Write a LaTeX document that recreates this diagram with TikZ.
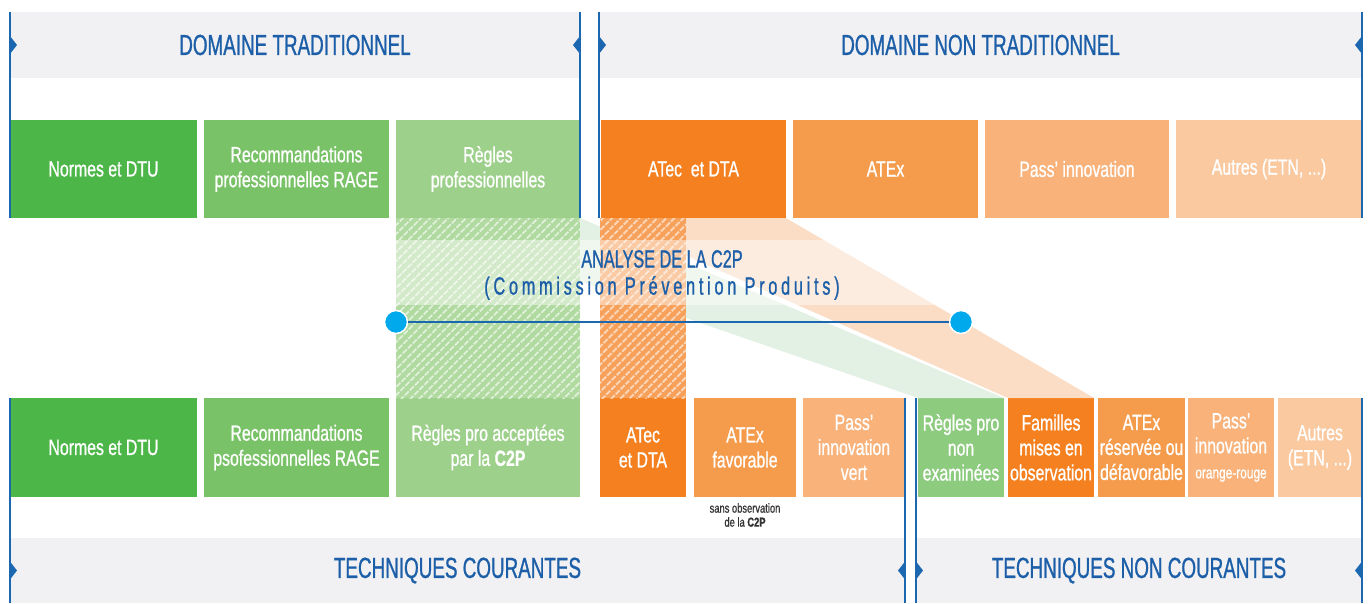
\documentclass[tikz,border=0pt]{standalone}
\usepackage{fontspec}
\setmainfont{Liberation Sans}[FakeStretch=0.72,FakeBold=0.8]
\newfontfamily\hdrfont{Liberation Sans}[FakeStretch=0.65,FakeBold=0.9]
\newfontfamily\cpfont{Liberation Sans}[FakeStretch=0.65,FakeBold=0.9,LetterSpace=15]
\usetikzlibrary{patterns.meta}
\definecolor{hgray}{HTML}{F1F1F3}
\definecolor{tblue}{HTML}{1C5FA8}
\definecolor{lblue}{HTML}{1B67B0}
\definecolor{dcyan}{HTML}{00A9EC}
\definecolor{ga}{HTML}{4CB748}
\definecolor{gb}{HTML}{79C267}
\definecolor{gc}{HTML}{9DD08B}
\definecolor{gd}{HTML}{8DCB7F}
\definecolor{oa}{HTML}{F48020}
\definecolor{ob}{HTML}{F59B4C}
\definecolor{oc}{HTML}{F8B27A}
\definecolor{od}{HTML}{FAC9A0}
\definecolor{gband}{HTML}{E2F1E3}
\definecolor{oband}{HTML}{FBD8BC}
\definecolor{ghatch}{HTML}{B0DA9F}
\definecolor{ohatch}{HTML}{F7A05A}
\newcommand\boxfnt{\fontsize{22}{25}\selectfont}
\newcommand\hdrfnt{\hdrfont\fontsize{29}{32}\selectfont}
\begin{document}
\begin{tikzpicture}[x=1pt,y=-1pt,
  box/.style={anchor=north west,inner sep=0pt,outer sep=0pt,text=white,align=center,font=\boxfnt},
  hdr/.style={anchor=north west,inner sep=0pt,outer sep=0pt,fill=hgray,text=tblue,font=\hdrfnt},
  vline/.style={draw=lblue,line width=2.4pt},
  tri/.style={fill=lblue},
  dot/.style={circle,fill=dcyan,draw=white,line width=1.5pt,minimum size=23pt,inner sep=0pt},
  cline/.style={draw=lblue,line width=2.6pt},
  hatch/.style={pattern={Lines[angle=45,distance=6.5pt,line width=2pt]},pattern color=white,opacity=0.6},
  note/.style={align=center,text=black!80,font=\fontsize{13}{14}\selectfont,inner sep=0pt}]
\useasboundingbox (0,0) rectangle (1368,603);
\fill[white] (0,0) rectangle (1368,603);

% headers
\node[hdr,minimum width=570pt,minimum height=66pt] (h1) at (10,12) {DOMAINE TRADITIONNEL};
\node[hdr,minimum width=763pt,minimum height=66pt] (h2) at (599,12) {DOMAINE NON TRADITIONNEL};
\node[hdr,minimum width=895pt,minimum height=65pt] (h3) at (10,538) {TECHNIQUES COURANTES};
\node[hdr,minimum width=446pt,minimum height=65pt] (h4) at (916,538) {TECHNIQUES NON COURANTES};

% top row
\node[box,fill=ga,minimum width=187pt,minimum height=98pt] (t1) at (10,120) {Normes et DTU};
\node[box,fill=gb,minimum width=185pt,minimum height=98pt] (t2) at (204,120) {Recommandations\\professionnelles RAGE};
\node[box,fill=gc,minimum width=184pt,minimum height=98pt] (t3) at (396,120) {Règles\\professionnelles};
\node[box,fill=oa,minimum width=185pt,minimum height=98pt] (t4) at (601,120) {ATec\ \ et DTA};
\node[box,fill=ob,minimum width=185pt,minimum height=98pt] (t5) at (793,120) {ATEx};
\node[box,fill=oc,minimum width=184pt,minimum height=98pt] (t6) at (985,120) {Pass’ innovation};
\node[box,fill=od,minimum width=186pt,minimum height=98pt] (t7) at (1176,120) {Autres (ETN, ...)};

% bottom row
\node[box,fill=ga,minimum width=187pt,minimum height=99pt] (b1) at (10,398) {Normes et DTU};
\node[box,fill=gb,minimum width=185pt,minimum height=99pt] (b2) at (204,398) {Recommandations\\psofessionnelles RAGE};
\node[box,fill=gc,minimum width=184pt,minimum height=99pt] (b3) at (396,398) {Règles pro acceptées\\par la \textbf{C2P}};
\node[box,fill=oa,minimum width=86pt,minimum height=99pt] (b4) at (600,398) {ATec\\et DTA};
\node[box,fill=ob,minimum width=102pt,minimum height=99pt] (b5) at (694,398) {ATEx\\favorable};
\node[box,fill=oc,minimum width=102pt,minimum height=99pt] (b6) at (803,398) {Pass’\\innovation\\vert};
\node[box,fill=gd,minimum width=86pt,minimum height=99pt] (b7) at (918,398) {Règles pro\\non\\examinées};
\node[box,fill=oa,minimum width=86pt,minimum height=99pt] (b8) at (1008,398) {Familles\\mises en\\observation};
\node[box,fill=ob,minimum width=87pt,minimum height=99pt] (b9) at (1098,398) {ATEx\\réservée ou\\défavorable};
\node[box,fill=oc,minimum width=86pt,minimum height=99pt] (b10) at (1188,398) {Pass’\\innovation\\{\fontsize{16.5}{18}\selectfont orange-rouge}};
\node[box,fill=od,minimum width=84pt,minimum height=99pt] (b11) at (1278,398) {Autres\\(ETN, ...)};

\node[note] (sn) at (745,515) {sans observation\\de la \textbf{C2P}};

% diagonal bands
\fill[gband] (t3.south west) -- (t3.south east) -- (b7.north east) -- (b7.north west) -- cycle;
\fill[oband,opacity=0.85] (t4.south west) -- (t4.south east) -- (b8.north east) -- (b8.north west) -- cycle;

% hatched columns
\fill[ghatch] (t3.south west) rectangle (b3.north east);
\fill[hatch] (t3.south west) rectangle (b3.north east);
\fill[ohatch] (b4.north west |- t4.south) rectangle (b4.north east);
\fill[hatch] (b4.north west |- t4.south) rectangle (b4.north east);

% light overlay band
\fill[white,opacity=0.45] (396,240) rectangle (965,305);

% C2P text
\node[text=tblue,font=\hdrfont\fontsize{25}{28}\selectfont,inner sep=0pt] (an) at (662,259) {ANALYSE DE LA C2P};
\node[text=tblue,font=\cpfont\fontsize{25}{28}\selectfont,inner sep=0pt] (cp) at (662,288) {(Commission Prévention Produits)};

% line with dots
\node[dot] (d1) at (396,322) {};
\node[dot] (d2) at (961,322) {};
\draw[cline] (d1) -- (d2);

% vertical lines
\draw[vline] (h1.north west) -- (h1.north west |- t1.south);
\draw[vline] (h1.north east) -- (h1.north east |- t3.south);
\draw[vline] (h2.north west) -- (h2.north west |- t4.south);
\draw[vline] (h2.north east) -- (h2.north east |- t7.south);
\draw[vline] (h3.south west) -- (h3.south west |- b1.north);
\draw[vline] (h3.south east) -- (h3.south east |- b6.north);
\draw[vline] (h4.south west) -- (h4.south west |- b7.north);
\draw[vline] (h4.south east) -- (h4.south east |- b11.north);

% triangles
\fill[tri] (h1.west) ++(0,-9) -- ++(7,9) -- ++(-7,9) -- cycle;
\fill[tri] (h1.east) ++(0,-9) -- ++(-7,9) -- ++(7,9) -- cycle;
\fill[tri] (h2.west) ++(0,-9) -- ++(7,9) -- ++(-7,9) -- cycle;
\fill[tri] (h2.east) ++(0,-9) -- ++(-7,9) -- ++(7,9) -- cycle;
\fill[tri] (h3.west) ++(0,-9) -- ++(7,9) -- ++(-7,9) -- cycle;
\fill[tri] (h3.east) ++(0,-9) -- ++(-7,9) -- ++(7,9) -- cycle;
\fill[tri] (h4.west) ++(0,-9) -- ++(7,9) -- ++(-7,9) -- cycle;
\fill[tri] (h4.east) ++(0,-9) -- ++(-7,9) -- ++(7,9) -- cycle;
\end{tikzpicture}
\end{document}
